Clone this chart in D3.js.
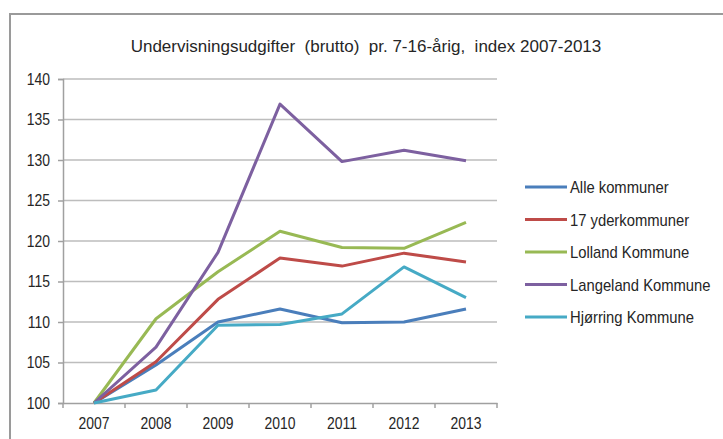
<!DOCTYPE html>
<html><head><meta charset="utf-8">
<script src="https://cdn.jsdelivr.net/npm/d3@7"></script>
<style>body{margin:0;background:#fff}svg{display:block}text{font-family:"Liberation Sans",Arial,sans-serif;fill:#262626}</style>
</head><body>
<svg id="c" width="723" height="439"></svg>
<script>
const years = ["2007","2008","2009","2010","2011","2012","2013"];
const seriesNames = ["Alle kommuner","17 yderkommuner","Lolland Kommune","Langeland Kommune","Hjørring Kommune"];
const alleKommuner    = [100, 104.7, 110.0, 111.6, 109.9, 110.0, 111.6];
const yderkommuner17  = [100, 105.1, 112.8, 117.9, 116.9, 118.5, 117.4];
const lollandKommune  = [100, 110.4, 116.2, 121.2, 119.2, 119.1, 122.3];
const langelandKommune= [100, 106.9, 118.6, 136.9, 129.8, 131.2, 129.9];
const hjoerringKommune= [100, 101.6, 109.6, 109.7, 111.0, 116.8, 113.0];
const yTicks = [100,105,110,115,120,125,130,135,140];
const colors = ["#4A7EBB","#BE4B48","#98B954","#7D60A0","#46AAC5"];
const title = "Undervisningsudgifter  (brutto)  pr. 7-16-årig,  index 2007-2013";

(function(){
const values = [alleKommuner, yderkommuner17, lollandKommune, langelandKommune, hjoerringKommune];
const svg = d3.select("#c");
const sx = 0.87;

svg.append("rect").attr("x",10).attr("y",14).attr("width",730).attr("height",440)
  .attr("fill","#fff").attr("stroke","#9a9a9a").attr("stroke-width",2);

const pL = 63, pR = 497, pT = 79, pB = 403;
const x = d3.scaleBand().domain(years).range([pL,pR]);
const y = d3.scaleLinear().domain([100,140]).range([pB,pT]);

svg.append("g").selectAll("line").data(yTicks.filter(d=>d>100)).join("line")
  .attr("x1",pL).attr("x2",pR).attr("y1",d=>y(d)).attr("y2",d=>y(d))
  .attr("stroke","#bdbdbd").attr("stroke-width",1.5);

const ya = svg.append("g").attr("transform",`translate(${pL},0)`)
  .call(d3.axisLeft(y).tickValues(yTicks).tickSize(5));
ya.select(".domain").attr("stroke","#a0a0a0").attr("stroke-width",1.5);
ya.selectAll(".tick line").attr("stroke","#a0a0a0").attr("stroke-width",1.5);
ya.selectAll("text").attr("font-size",16).attr("fill","#262626")
  .attr("x",0).attr("dy","0.34em").attr("transform",`translate(-13,0) scale(${sx},1)`);

const xa = svg.append("g").attr("transform",`translate(0,${pB})`)
  .call(d3.axisBottom(x).tickSize(0));
xa.select(".domain").attr("stroke","#a0a0a0").attr("stroke-width",1.5);
xa.selectAll("text").attr("font-size",16).attr("fill","#262626")
  .attr("y",0).attr("dy","0").attr("transform",`translate(0,26) scale(${sx},1)`);
svg.append("g").selectAll("line").data(d3.range(years.length+1)).join("line")
  .attr("x1",i=>pL+i*x.step()).attr("x2",i=>pL+i*x.step())
  .attr("y1",pB).attr("y2",pB+5).attr("stroke","#a0a0a0").attr("stroke-width",1.5);

const line = d3.line().x((d,i)=>x(years[i])+x.bandwidth()/2).y(d=>y(d));
svg.append("g").selectAll("path").data(values).join("path")
  .attr("d",line).attr("fill","none").attr("stroke",(d,i)=>colors[i])
  .attr("stroke-width",3).attr("stroke-linejoin","round");

svg.append("text").attr("x",366).attr("y",52).attr("text-anchor","middle")
  .attr("font-size",17).style("white-space","pre").text(title);

const lg = svg.append("g").selectAll("g").data(seriesNames).join("g")
  .attr("transform",(d,i)=>`translate(525,${187+i*32.5})`);
lg.append("line").attr("x1",0).attr("x2",42).attr("y1",0).attr("y2",0)
  .attr("stroke",(d,i)=>colors[i]).attr("stroke-width",3);
lg.append("text").attr("transform",`translate(45,6) scale(${sx},1)`).attr("font-size",17).text(d=>d);
})();
</script>
</body></html>
